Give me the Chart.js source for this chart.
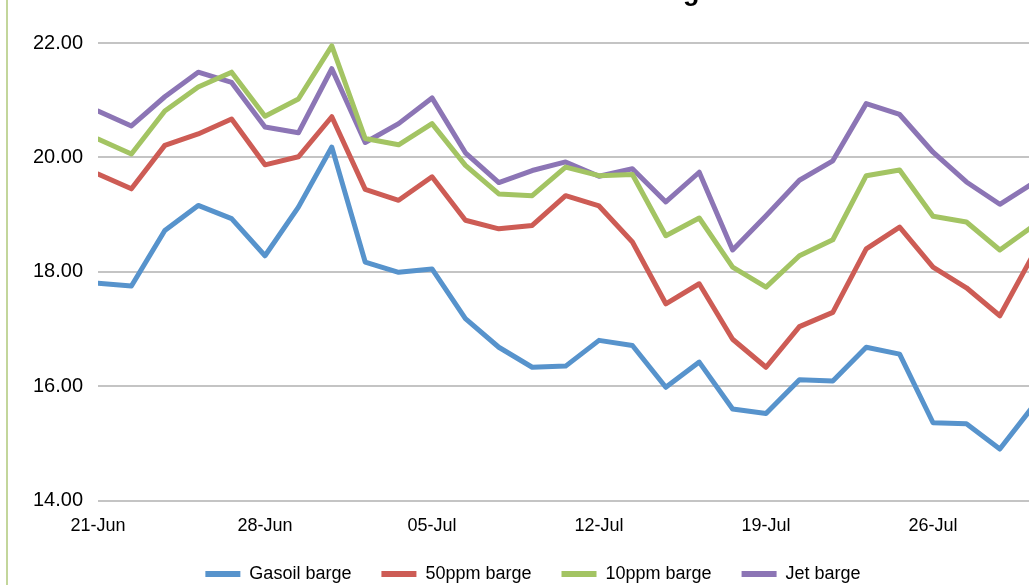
<!DOCTYPE html>
<html>
<head>
<meta charset="utf-8">
<script src="https://cdn.jsdelivr.net/npm/chart.js"></script>
<style>
  html, body { margin: 0; padding: 0; background: #fff; overflow: hidden; }
  body { width: 1029px; height: 585px; position: relative; }
  #frame { position: absolute; left: 6px; top: 0; width: 2px; height: 585px; background: #c3d69b; }
  #wrap { position: absolute; left: 0; top: -40px; width: 1084px; height: 633px; }
</style>
</head>
<body>
<div id="wrap"><canvas id="chart"></canvas></div>
<div id="frame"></div>
<script>
// 営業日の日付（21-Jun〜29-Jul）
const dates = [
  '21-Jun', '22-Jun', '23-Jun', '24-Jun', '25-Jun',
  '28-Jun', '29-Jun', '30-Jun', '01-Jul', '02-Jul',
  '05-Jul', '06-Jul', '07-Jul', '08-Jul', '09-Jul',
  '12-Jul', '13-Jul', '14-Jul', '15-Jul', '16-Jul',
  '19-Jul', '20-Jul', '21-Jul', '22-Jul', '23-Jul',
  '26-Jul', '27-Jul', '28-Jul', '29-Jul'
];
// x 軸に表示するラベル
const xTickLabels = ['21-Jun', '28-Jun', '05-Jul', '12-Jul', '19-Jul', '26-Jul'];
// y 軸の目盛り
const yTicks = [14, 16, 18, 20, 22];

const seriesNames = ['Gasoil barge', '50ppm barge', '10ppm barge', 'Jet barge'];
const seriesColors = ['#5793cc', '#cd5c55', '#a3c463', '#8c75b5'];

const gasoil = [17.80, 17.75, 18.72, 19.16, 18.93, 18.28, 19.13, 20.18, 18.17, 17.99,
                18.05, 17.18, 16.68, 16.33, 16.35, 16.80, 16.71, 15.98, 16.42, 15.60,
                15.52, 16.11, 16.09, 16.68, 16.56, 15.36, 15.34, 14.90, 15.65];
const ppm50 = [19.71, 19.45, 20.21, 20.41, 20.67, 19.87, 20.01, 20.71, 19.44, 19.25,
               19.66, 18.90, 18.75, 18.81, 19.33, 19.15, 18.52, 17.44, 17.79, 16.82,
               16.33, 17.04, 17.29, 18.40, 18.78, 18.08, 17.72, 17.23, 18.30];
const ppm10 = [20.32, 20.06, 20.81, 21.23, 21.49, 20.72, 21.02, 21.95, 20.33, 20.22,
               20.59, 19.86, 19.36, 19.33, 19.83, 19.68, 19.70, 18.63, 18.94, 18.08,
               17.73, 18.28, 18.56, 19.68, 19.78, 18.97, 18.87, 18.38, 18.80];
const jet = [20.81, 20.55, 21.06, 21.49, 21.31, 20.53, 20.43, 21.55, 20.26, 20.59,
             21.04, 20.08, 19.56, 19.77, 19.92, 19.67, 19.80, 19.22, 19.74, 18.38,
             18.98, 19.60, 19.94, 20.94, 20.75, 20.09, 19.57, 19.18, 19.55];

const allSeries = [gasoil, ppm50, ppm10, jet];

const FONT = '"Liberation Sans", Arial, sans-serif';

// 日付のインデックスを x 値としてデータセットを作る
const datasets = allSeries.map((values, i) => ({
  label: seriesNames[i],
  data: values.map((v, idx) => ({ x: idx, y: v })),
  borderColor: seriesColors[i],
  backgroundColor: seriesColors[i],
  borderWidth: 5,
  borderJoinStyle: 'round',
  borderCapStyle: 'round',
  pointRadius: 0,
  tension: 0,
  fill: false
}));

// 凡例を少し左へ寄せる（元のグラフに合わせるため）
const legendShift = {
  id: 'legendShift',
  afterLayout(chart) {
    if (chart.legend) {
      chart.legend.left -= 9;
      chart.legend.right -= 9;
    }
  }
};

new Chart(document.getElementById('chart').getContext('2d'), {
  type: 'line',
  data: { datasets: datasets },
  plugins: [legendShift],
  options: {
    responsive: true,
    maintainAspectRatio: false,
    animation: false,
    layout: { padding: 0 },
    scales: {
      x: {
        type: 'linear',
        min: 0,
        max: 29.52, // プロット領域は最後のデータの少し右まで続く
        grid: { display: false, drawTicks: false },
        border: { display: false },
        afterFit: (scale) => { scale.height = 34.5; },
        ticks: {
          stepSize: 5,
          includeBounds: false,
          autoSkip: false,
          maxRotation: 0,
          padding: 14.4,
          color: '#000',
          font: { family: FONT, size: 18 },
          callback: (value) => {
            const lbl = dates[value];
            return xTickLabels.includes(lbl) ? lbl : '';
          }
        }
      },
      y: {
        min: yTicks[0],
        max: yTicks[yTicks.length - 1],
        afterFit: (scale) => { scale.width = 98; },
        grid: { color: '#c4c4c4', lineWidth: 2, drawTicks: false },
        border: { display: false },
        ticks: {
          stepSize: 2,
          padding: 15,
          color: '#000',
          font: { family: FONT, size: 20 },
          callback: (value) => value.toFixed(2)
        }
      }
    },
    plugins: {
      title: {
        display: true,
        text: 'Product Cracks versus Rolling Brent',
        color: '#000',
        font: { family: FONT, size: 27, weight: 'bold' },
        padding: { top: 16, bottom: 34.6 }
      },
      legend: {
        display: true,
        position: 'bottom',
        labels: {
          boxWidth: 35,
          boxHeight: 6,
          padding: 30,
          color: '#000',
          font: { family: FONT, size: 18 },
          generateLabels: (chart) => chart.data.datasets.map((ds, i) => ({
            text: ds.label,
            fillStyle: ds.borderColor,
            strokeStyle: ds.borderColor,
            lineWidth: 0,
            hidden: false,
            datasetIndex: i
          }))
        }
      },
      tooltip: { enabled: false }
    }
  }
});
</script>
</body>
</html>
